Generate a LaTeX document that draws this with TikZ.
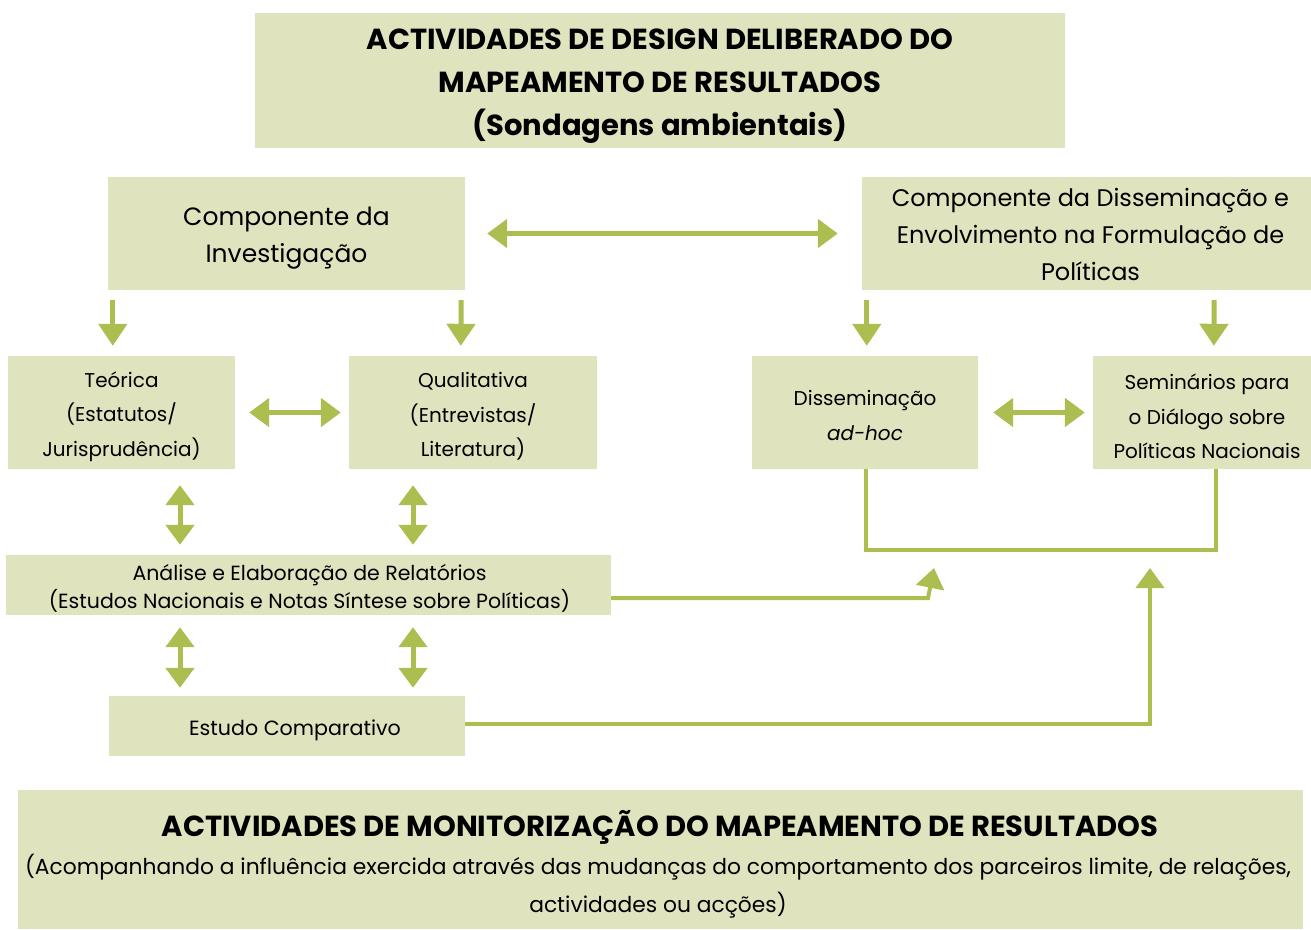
\documentclass[tikz,border=0pt]{standalone}
\usepackage{fontspec}
\setmainfont{Poppins}
\usetikzlibrary{arrows.meta,calc}
\definecolor{boxfill}{RGB}{224,228,190}
\definecolor{ag}{RGB}{171,190,79}
\begin{document}
\begin{tikzpicture}[x=1pt,y=-1pt,
  box/.style={fill=boxfill, draw=none, inner sep=0pt},
  txt/.style={inner sep=0pt, align=center, text=black},
  small/.style={font=\fontsize{20}{34.5}\selectfont},
  arr/.style={draw=ag, line width=5pt, -{Triangle[width=28pt,length=22pt]}},
  dbl/.style={draw=ag, line width=5pt, {Triangle[width=28pt,length=20pt]}-{Triangle[width=28pt,length=20pt]}},
  conn/.style={draw=ag, line width=4pt},
  connarr/.style={draw=ag, line width=4pt, -{Triangle[width=28pt,length=20pt]}}]
\useasboundingbox (0,0) rectangle (1311,929);
% boxes
\node[box, minimum width=810, minimum height=135] (title) at (660,80.5) {};
\node[box, minimum width=357, minimum height=113] (inv) at (286.5,233.5) {};
\node[box, minimum width=449, minimum height=113] (dis) at (1086.5,233.5) {};
\node[box, minimum width=227, minimum height=113] (teo) at (121.5,412.5) {};
\node[box, minimum width=248, minimum height=113] (qual) at (473,412.5) {};
\node[box, minimum width=226, minimum height=113] (diss) at (865,412.5) {};
\node[box, minimum width=218, minimum height=113] (sem) at (1202,412.5) {};
\node[box, minimum width=605, minimum height=60] (ana) at (308.5,585) {};
\node[box, minimum width=356, minimum height=60] (est) at (287,726) {};
\node[box, minimum width=1285, minimum height=139] (mon) at (660.5,859.5) {};
% texts
\node[txt, font=\bfseries\fontsize{29}{43}\selectfont] (titlet) at ($(title.center)+(0,6)$)
 {ACTIVIDADES DE DESIGN DELIBERADO DO\\MAPEAMENTO DE RESULTADOS\\(Sondagens ambientais)};
\node[txt, font=\fontsize{25}{37}\selectfont] (invt) at ($(inv.center)+(0,5)$)
 {Componente da\\Investigação};
\node[txt, font=\fontsize{24}{37}\selectfont] (dist) at ($(dis.center)+(4,1)$)
 {Componente da Disseminação e\\Envolvimento na Formulação de\\Políticas};
\node[txt, small] (teot) at ($(teo.center)+(0,4)$)
 {Teórica\\(Estatutos/\\Jurisprudência)};
\node[txt, small] (qualt) at ($(qual.center)+(0,4)$)
 {Qualitativa\\(Entrevistas/\\Literatura)};
\node[txt, small] (disst) at ($(diss.center)+(0,3)$)
 {Disseminação\\\textit{ad-hoc}};
\node[txt, small] (semt) at ($(sem.center)+(5,4)$)
 {Seminários para\\o Diálogo sobre\\Políticas Nacionais};
\node[txt, font=\fontsize{20.5}{28}\selectfont] (anat) at ($(ana.center)+(1,3)$)
 {Análise e Elaboração de Relatórios\\(Estudos Nacionais e Notas Síntese sobre Políticas)};
\node[txt, font=\fontsize{20.6}{28}\selectfont] (estt) at ($(est.center)+(8,4)$)
 {Estudo Comparativo};
\node[txt, font=\bfseries\fontsize{29}{30}\selectfont] (montitle) at (660,827)
 {ACTIVIDADES DE MONITORIZAÇÃO DO MAPEAMENTO DE RESULTADOS};
\node[txt, font=\fontsize{21.8}{38}\selectfont] (monsub) at (658,886)
 {(Acompanhando a influência exercida através das mudanças do comportamento dos parceiros limite, de relações,\\actividades ou acções)};
% top double arrow
\draw[dbl, shorten <=22pt, shorten >=24pt] (inv.east) -- (inv.east -| dis.west);
% down arrows
\draw[arr] ($(inv.south west)+(5,10)$) -- ($(teo.north west)+(105,-10)$);
\draw[arr] ($(inv.south east)+(-4,10)$) -- ($(qual.north west)+(112,-10)$);
\draw[arr] ($(dis.south west)+(5,10)$) -- ($(diss.north west)+(115,-10)$);
\draw[arr] ($(dis.south east)+(-97,10)$) -- ($(sem.north west)+(121,-10)$);
% horizontal double arrows
\draw[dbl, shorten <=14pt, shorten >=8pt] (teo.east) -- (qual.west);
\draw[dbl, shorten <=15pt, shorten >=8pt] (diss.east) -- (sem.west);
% vertical double arrows
\draw[dbl, shorten <=16pt, shorten >=10pt] (teo.south -| 180,0) -- (ana.north -| 180,0);
\draw[dbl, shorten <=16pt, shorten >=10pt] (qual.south -| 413,0) -- (ana.north -| 413,0);
\draw[dbl, shorten <=12pt, shorten >=8pt] (ana.south -| 180,0) -- (est.north -| 180,0);
\draw[dbl, shorten <=12pt, shorten >=8pt] (ana.south -| 413,0) -- (est.north -| 413,0);
% dissemination join line
\draw[conn] ($(diss.south)+(1,0)$) -- ++(0,81) -| ($(sem.south)+(14,0)$);
% analysis to join
\coordinate (tip1) at (934,568);
\draw[connarr] ($(ana.east)+(0,13)$) -- (928,598) -- (tip1);
% estudo to join
\coordinate (tip2) at (1150,568);
\draw[connarr] ($(est.east)+(0,-2)$) -| (tip2);
\end{tikzpicture}
\end{document}
